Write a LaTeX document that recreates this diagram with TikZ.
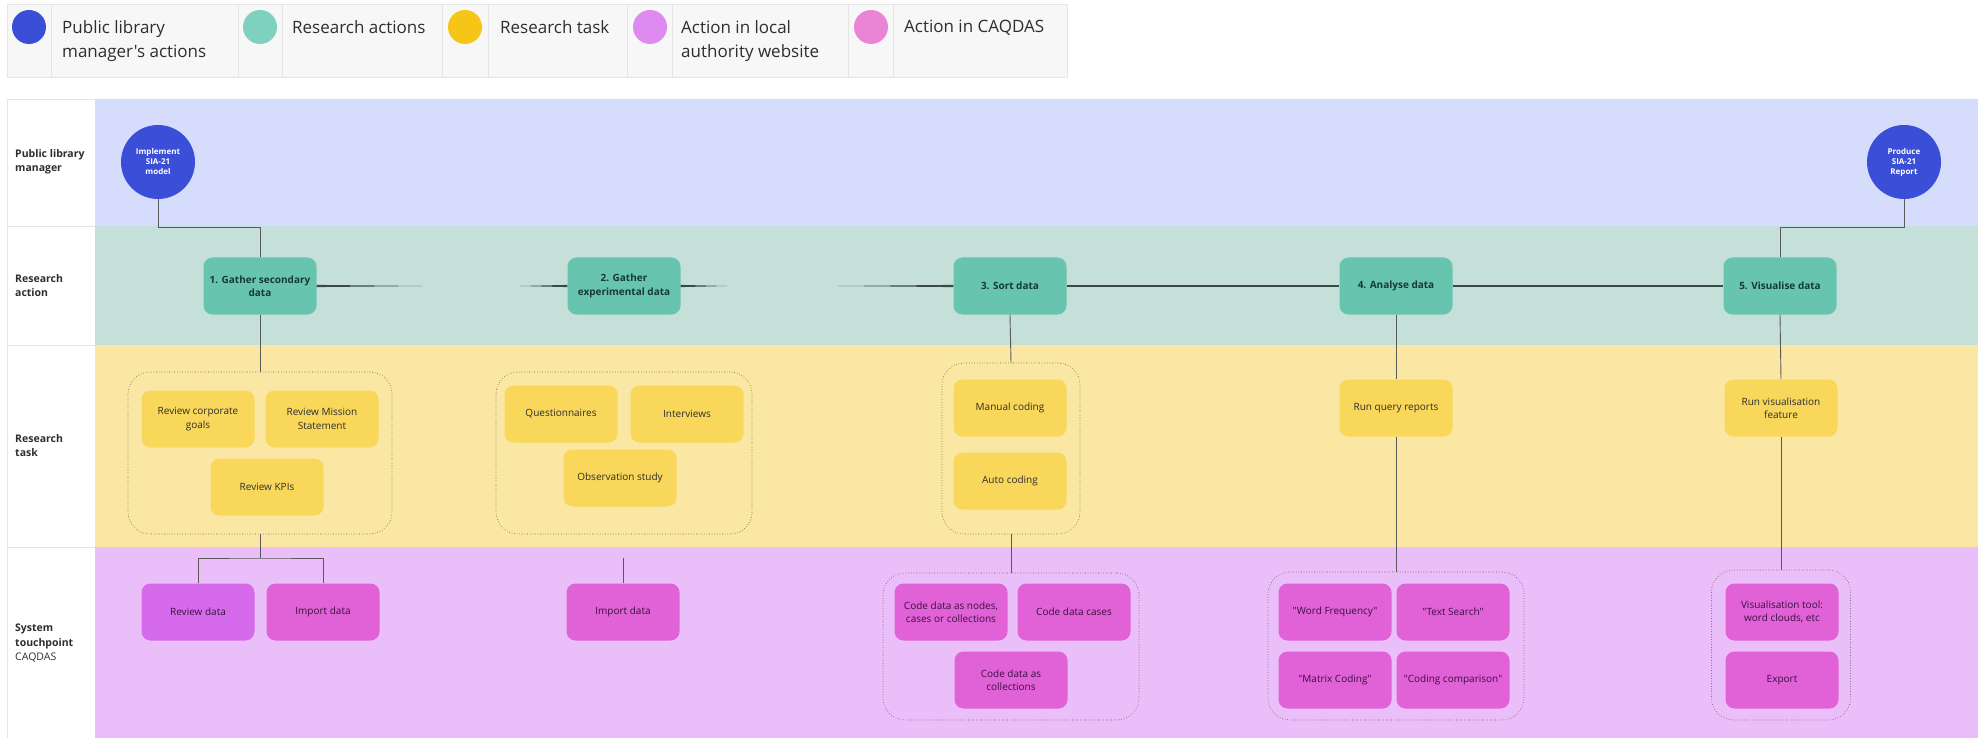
\documentclass[tikz,border=0pt]{standalone}
\usepackage{fontspec}
\setmainfont{Open Sans}[Ligatures=TeXOff]
\usetikzlibrary{calc}

\definecolor{legendbg}{HTML}{F8F7F8}
\definecolor{legendline}{HTML}{E6E5E6}
\definecolor{laneblue}{HTML}{D6DDFC}
\definecolor{lanegreen}{HTML}{C4E0D8}
\definecolor{laneyellow}{HTML}{FAE7A3}
\definecolor{lanepurple}{HTML}{EABEF8}
\definecolor{mgrfill}{HTML}{3A4ED8}
\definecolor{actfill}{HTML}{67C4AF}
\definecolor{taskfill}{HTML}{F8D75B}
\definecolor{caqfill}{HTML}{E162D7}
\definecolor{webfill}{HTML}{D66AEC}
\definecolor{dotteal}{HTML}{7ED0C0}
\definecolor{dotyellow}{HTML}{F5C518}
\definecolor{dotlilac}{HTML}{DF8AEE}
\definecolor{dotpink}{HTML}{EA84D4}
\definecolor{bodytext}{HTML}{2E2E2E}
\definecolor{acttext}{HTML}{163A33}
\definecolor{caqtext}{HTML}{3B1040}
\definecolor{connline}{HTML}{5A5A5A}
\definecolor{flowline}{HTML}{3C4A46}
\definecolor{grpline}{HTML}{555555}

\begin{document}
\begin{tikzpicture}[x=1pt,y=-1pt,
  legtext/.style={anchor=north west, inner sep=0pt, align=left, text=bodytext,
    font=\fontsize{17}{24}\selectfont},
  legdot/.style={circle, minimum size=34pt, inner sep=0pt},
  lanelabel/.style={anchor=north west, inner sep=0pt, align=left, text=bodytext,
    font=\bfseries\fontsize{10.5}{14.5}\selectfont},
  boxbase/.style={rounded corners=9pt, minimum width=113pt, minimum height=57pt,
    align=center, inner sep=2pt, font=\fontsize{10}{13.3}\selectfont},
  actbox/.style={boxbase, fill=actfill, text=acttext,
    font=\bfseries\fontsize{10}{13.3}\selectfont},
  taskbox/.style={boxbase, fill=taskfill, text=bodytext},
  caqbox/.style={boxbase, fill=caqfill, text=caqtext},
  webbox/.style={boxbase, fill=webfill, text=caqtext},
  mgr/.style={circle, fill=mgrfill, minimum size=74pt, inner sep=0pt, text=white,
    align=center, font=\bfseries\fontsize{8}{10}\selectfont},
  grp/.style={draw=grpline, dotted, line width=0.6pt, rounded corners=22pt, inner sep=0pt},
  conn/.style={draw=connline, line width=0.9pt},
  flow/.style={draw=flowline, line width=1.5pt},
  taper/.style={fill=flowline},
  colline/.style={draw=legendline, line width=0.8pt}
]
\useasboundingbox (0,0) rectangle (1982,738);
\fill[white] (0,0) rectangle (1982,738);

% ---- legend ----
\draw[fill=legendbg, draw=legendline, line width=0.8pt] (7,4) rectangle (1067,77);
\foreach \sx in {51,238,282,442,488,627,672,848,893}
  \draw[colline] (\sx,4) -- (\sx,77);
\node[legdot, fill=mgrfill]   (d1) at (29,27) {};
\node[legdot, fill=dotteal]   (d2) at (260,27) {};
\node[legdot, fill=dotyellow] (d3) at (465,27) {};
\node[legdot, fill=dotlilac]  (d4) at (650,27) {};
\node[legdot, fill=dotpink]   (d5) at (871,27) {};
\node[legtext] (l1) at (62,20)  {Public library\\manager's actions};
\node[legtext] (l2) at (292,20) {Research actions};
\node[legtext] (l3) at (500,20) {Research task};
\node[legtext] (l4) at (681,20) {Action in local\\authority website};
\node[legtext] (l5) at (904,20) {Action in CAQDAS};

% ---- swimlanes ----
\fill[laneblue]   (95,99)  rectangle (1978,226);
\fill[lanegreen]  (95,226) rectangle (1978,345);
\fill[laneyellow] (95,345) rectangle (1978,547);
\fill[lanepurple] (95,547) rectangle (1978,738);
\draw[colline] (7,99) -- (7,738);
\draw[colline] (7,99) -- (95,99);
\foreach \sy in {226,345,547}
  \draw[colline] (7,\sy) -- (95,\sy);

\node[lanelabel] (lab1) at (15,149) {Public library\\manager};
\node[lanelabel] (lab2) at (15,274) {Research\\action};
\node[lanelabel] (lab3) at (15,434) {Research\\task};
\node[lanelabel] (lab4) at (15,624) {System\\touchpoint\\\mdseries CAQDAS};

% ---- groups ----
\node[grp, minimum width=264pt, minimum height=162pt] (grp1) at (260,453) {};
\node[grp, minimum width=256pt, minimum height=162pt] (grp2) at (624,453) {};
\node[grp, minimum width=138pt, minimum height=171pt] (grp3) at (1011,448.5) {};
\node[grp, minimum width=256pt, minimum height=147pt] (grp4) at (1011,646.5) {};
\node[grp, minimum width=256pt, minimum height=148pt] (grp5) at (1396,646) {};
\node[grp, minimum width=139pt, minimum height=150pt] (grp6) at (1781,645) {};

% ---- manager actions ----
\node[mgr] (impl) at (158,162) {Implement\\SIA-21\\model};
\node[mgr] (prod) at (1904,162) {Produce\\SIA-21\\Report};

% ---- research actions ----
\node[actbox] (g1) at (260,286)  {1. Gather secondary\\data};
\node[actbox] (g2) at (624,286)  {2. Gather\\experimental data};
\node[actbox] (g3) at (1010,286) {3. Sort data};
\node[actbox] (g4) at (1396,286) {4. Analyse data};
\node[actbox] (g5) at (1780,286) {5. Visualise data};

% ---- research tasks ----
\node[taskbox] (corp)  at (198,419)  {Review corporate\\goals};
\node[taskbox] (miss)  at (322,419)  {Review Mission\\Statement};
\node[taskbox] (kpi)   at (267,487)  {Review KPIs};
\node[taskbox] (quest) at (561,414)  {Questionnaires};
\node[taskbox] (inter) at (687,414)  {Interviews};
\node[taskbox] (obs)   at (620,478)  {Observation study};
\node[taskbox] (man)   at (1010,408) {Manual coding};
\node[taskbox] (auto)  at (1010,481) {Auto coding};
\node[taskbox] (query) at (1396,408) {Run query reports};
\node[taskbox] (visf)  at (1781,408) {Run visualisation\\feature};

% ---- system touchpoints ----
\node[webbox] (rev)  at (198,612)  {Review data};
\node[caqbox] (imp1) at (323,612)  {Import data};
\node[caqbox] (imp2) at (623,612)  {Import data};
\node[caqbox] (cd1)  at (951,612)  {Code data as nodes,\\cases or collections};
\node[caqbox] (cd2)  at (1074,612) {Code data cases};
\node[caqbox] (cd3)  at (1011,680) {Code data as\\collections};
\node[caqbox] (wf)   at (1335,612) {"Word Frequency"};
\node[caqbox] (ts)   at (1453,612) {"Text Search"};
\node[caqbox] (mc)   at (1335,680) {"Matrix Coding"};
\node[caqbox] (cc)   at (1453,680) {"Coding comparison"};
\node[caqbox] (vt)   at (1782,612) {Visualisation tool:\\word clouds, etc};
\node[caqbox] (ex)   at (1782,680) {Export};

% ---- connectors ----
\coordinate (k1) at (158,227);
\coordinate (k2) at (1904,227);
\draw[conn] (impl.south) -- (k1) -| (g1.north);
\draw[conn] (prod.south) -- (k2) -| (g5.north);

% tapered links between the first three actions
\coordinate (t1) at (422,286);
\coordinate (t2) at (520,286);
\coordinate (t3) at (727,286);
\coordinate (t4) at (838,286);
\fill[taper] ($(g1.east)+(0,-1.1)$) -- (t1) -- ($(g1.east)+(0,1.1)$) -- cycle;
\fill[taper] ($(g2.west)+(0,-1.1)$) -- (t2) -- ($(g2.west)+(0,1.1)$) -- cycle;
\fill[taper] ($(g2.east)+(0,-1.1)$) -- (t3) -- ($(g2.east)+(0,1.1)$) -- cycle;
\fill[taper] ($(g3.west)+(0,-1.1)$) -- (t4) -- ($(g3.west)+(0,1.1)$) -- cycle;
\draw[flow] (g3.east) -- (g4.west);
\draw[flow] (g4.east) -- (g5.west);

% verticals
\draw[conn] (g1.south) -- (grp1.north);
\coordinate (j1) at (260,558);
\draw[conn] (grp1.south) -- (j1);
\draw[conn] (rev.north) |- (j1) -| (imp1.north);
\coordinate (s2) at (623,558);
\draw[conn] (s2) -- (imp2.north);
\draw[conn] (g3.south) -- (grp3.north);
\draw[conn] (grp3.south) -- (grp4.north);
\draw[conn] (g4.south) -- (query.north);
\draw[conn] (query.south) -- (grp5.north);
\draw[conn] (g5.south) -- (visf.north);
\draw[conn] (visf.south) -- (grp6.north);
\end{tikzpicture}
\end{document}
